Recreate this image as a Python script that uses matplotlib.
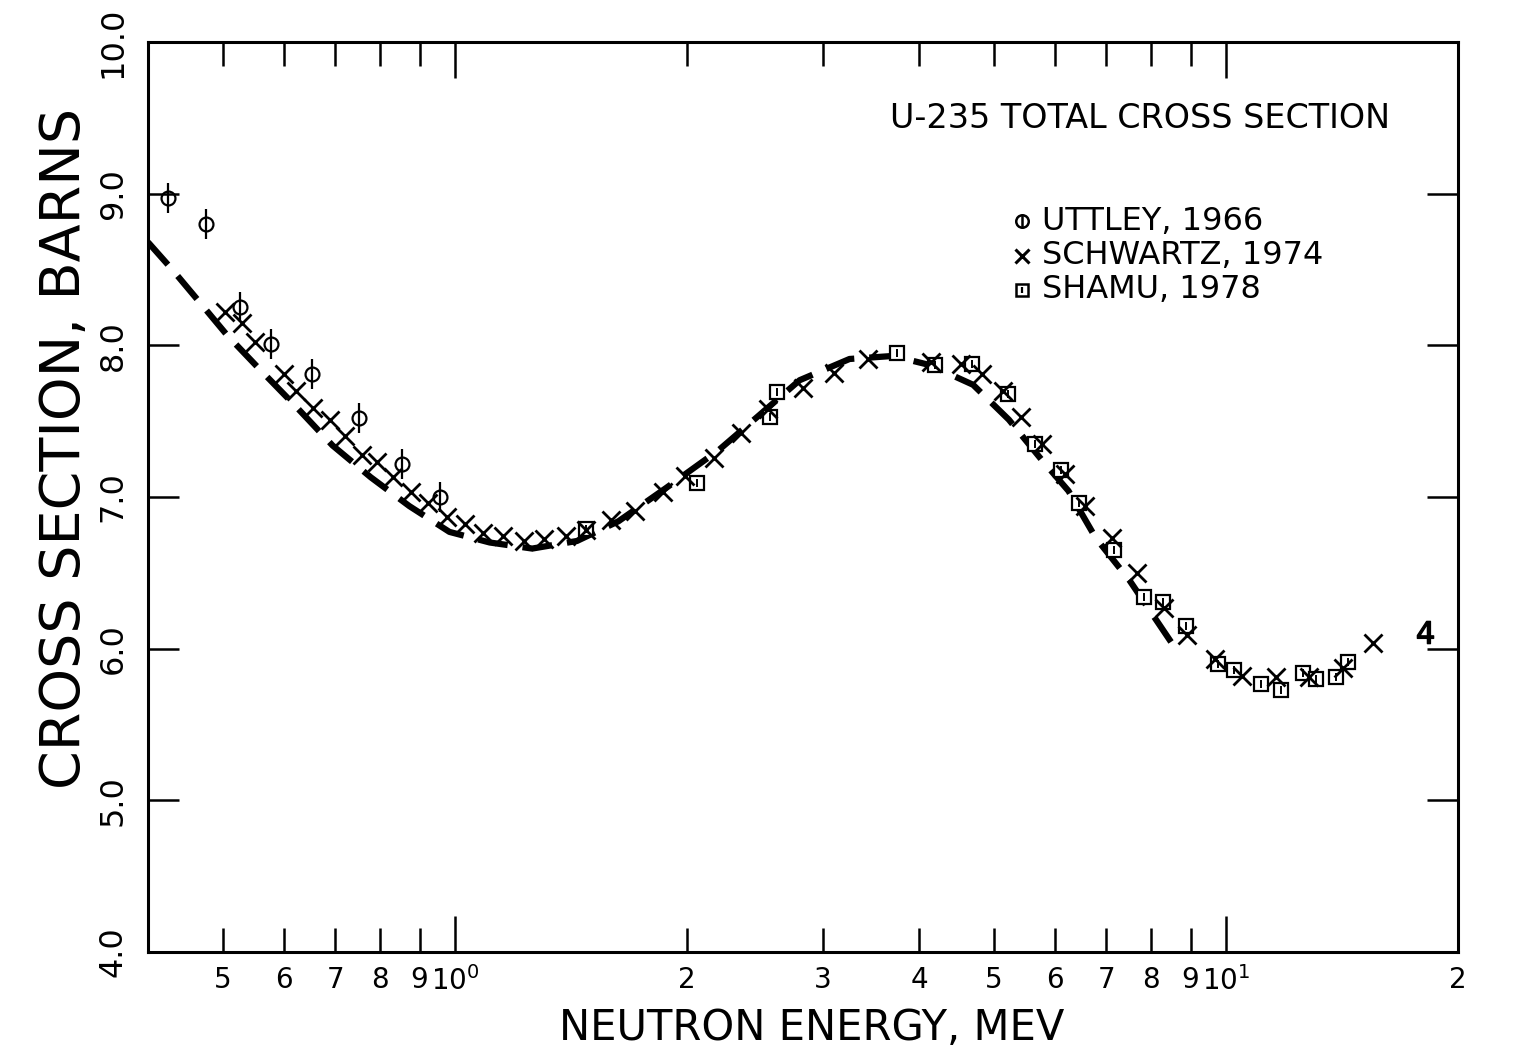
import matplotlib
matplotlib.use('Agg')
import matplotlib.pyplot as plt
from matplotlib.ticker import FixedLocator, FixedFormatter, NullFormatter

# Datos (energia en MeV, seccion eficaz en barns)
uttley_e = [0.425, 0.476, 0.527, 0.578, 0.652, 0.751, 0.853, 0.957]
uttley_s = [8.97, 8.80, 8.25, 8.01, 7.81, 7.52, 7.22, 7.00]

schwartz_e = [0.503, 0.530, 0.551, 0.600, 0.622, 0.655, 0.688, 0.721, 0.759, 0.792,
              0.832, 0.876, 0.922, 0.976, 1.031, 1.087, 1.153, 1.231, 1.307, 1.393,
              1.480, 1.594, 1.711, 1.863, 1.986, 2.17, 2.35, 2.55, 2.83, 3.10,
              3.43, 4.14, 4.53, 4.83, 5.14, 5.42, 5.77, 6.18, 6.57, 7.11,
              7.67, 8.32, 8.91, 9.69, 10.5, 11.6, 12.8, 14.2, 15.5]
schwartz_s = [8.22, 8.15, 8.02, 7.81, 7.70, 7.59, 7.51, 7.40, 7.28, 7.23,
              7.13, 7.03, 6.96, 6.87, 6.82, 6.76, 6.74, 6.71, 6.72, 6.74,
              6.78, 6.85, 6.91, 7.03, 7.14, 7.26, 7.42, 7.58, 7.72, 7.82,
              7.91, 7.89, 7.88, 7.81, 7.70, 7.53, 7.35, 7.15, 6.94, 6.73,
              6.50, 6.27, 6.09, 5.93, 5.82, 5.81, 5.81, 5.87, 6.04]

shamu_e = [1.48, 2.06, 2.56, 2.62, 3.75, 4.20, 4.69, 5.21, 5.65, 6.12, 6.45, 7.16,
           7.82, 8.28, 8.87, 9.76, 10.25, 11.1, 11.8, 12.6, 13.1, 13.9, 14.4]
shamu_s = [6.79, 7.09, 7.53, 7.69, 7.95, 7.87, 7.88, 7.68, 7.35, 7.18, 6.96, 6.65,
           6.34, 6.31, 6.15, 5.90, 5.86, 5.77, 5.73, 5.84, 5.80, 5.81, 5.91]

otro_e = [18.1]
otro_s = [6.11]

# Curva evaluada (linea discontinua)
curva_e = [0.40, 0.43, 0.471, 0.506, 0.554, 0.624, 0.694, 0.778, 0.873, 0.984,
           1.11, 1.26, 1.44, 1.63, 1.88, 2.20, 2.47, 2.80, 3.25, 3.70,
           4.13, 4.70, 5.23, 5.78, 6.25, 6.78, 7.50, 8.50]
curva_s = [8.68, 8.50, 8.26, 8.07, 7.86, 7.59, 7.34, 7.13, 6.94, 6.77,
           6.70, 6.66, 6.71, 6.84, 7.06, 7.31, 7.53, 7.77, 7.91, 7.93,
           7.87, 7.74, 7.51, 7.24, 7.04, 6.73, 6.45, 6.04]

x_major = [1, 10]
x_major_lab = ['10$^0$', '10$^1$']
x_minor = [0.5, 0.6, 0.7, 0.8, 0.9, 2, 3, 4, 5, 6, 7, 8, 9, 20]
x_minor_lab = ['5', '6', '7', '8', '9', '2', '3', '4', '5', '6', '7', '8', '9', '2']
y_ticks = [4, 5, 6, 7, 8, 9, 10]
y_tick_lab = ['4.0', '5.0', '6.0', '7.0', '8.0', '9.0', '10.0']

plt.rcParams['font.family'] = ['DejaVu Sans']

fig = plt.figure(figsize=(15.13, 10.53), dpi=100)
ax = fig.add_axes([148 / 1513, 101 / 1053, 1310 / 1513, 910 / 1053])

# Curva discontinua gruesa
ax.plot(curva_e, curva_s, color='black', lw=4.5, linestyle=(0, (4.8, 2.4)),
        dash_capstyle='butt', zorder=2)

# Uttley: circulo con barra vertical
ax.plot(uttley_e, uttley_s, linestyle='none', marker='o', ms=10, mfc='none',
        mec='black', mew=1.6, zorder=3)
ax.plot(uttley_e, uttley_s, linestyle='none', marker='|', ms=21, mec='black',
        mew=1.6, zorder=3)

# Schwartz: cruces
ax.plot(schwartz_e, schwartz_s, linestyle='none', marker='x', ms=13, mec='black',
        mew=2.0, zorder=4)

# Shamu: cuadrados
ax.plot(shamu_e, shamu_s, linestyle='none', marker='s', ms=10, mfc='white',
        mec='black', mew=1.6, zorder=3)
ax.plot(shamu_e, shamu_s, linestyle='none', marker='|', ms=6, mec='black',
        mew=1.4, zorder=3)

ax.plot(otro_e, otro_s, linestyle='none', marker='$4$', ms=16, color='black', zorder=3)

ax.set_xscale('log')
ax.set_xlim(0.4, 20)
ax.set_ylim(4.0, 10.0)

ax.xaxis.set_major_locator(FixedLocator(x_major))
ax.xaxis.set_major_formatter(FixedFormatter(x_major_lab))
ax.xaxis.set_minor_locator(FixedLocator(x_minor))
ax.xaxis.set_minor_formatter(FixedFormatter(x_minor_lab))
ax.set_yticks(y_ticks)
ax.set_yticklabels(y_tick_lab, rotation=90, va='center')

ax.tick_params(axis='x', which='major', direction='in', length=26, width=1.8,
               top=True, labelsize=20, pad=10)
ax.tick_params(axis='x', which='minor', direction='in', length=17, width=1.8,
               top=True, labelsize=20, pad=10)
ax.tick_params(axis='y', which='major', direction='in', length=22, width=1.8,
               right=True, labelsize=23, pad=14)
for s in ax.spines.values():
    s.set_linewidth(2.2)

# Textos
fig.text(1140 / 1513, 1 - 118 / 1053, 'U-235 TOTAL CROSS SECTION', fontsize=24,
         ha='center', va='center')
fig.text(812 / 1513, 1 - 1028 / 1053, 'NEUTRON ENERGY, MEV', fontsize=30,
         ha='center', va='center')
fig.text(65 / 1513, 1 - 448 / 1053, 'CROSS SECTION, BARNS', fontsize=40,
         rotation=90, ha='center', va='center')

# Leyenda manual
ley_y = [1 - 221 / 1053, 1 - 256 / 1053, 1 - 290 / 1053]
ley_txt = ['UTTLEY, 1966', 'SCHWARTZ, 1974', 'SHAMU, 1978']
for yy, tt in zip(ley_y, ley_txt):
    fig.text(1042 / 1513, yy, tt, fontsize=23, ha='left', va='center')
mx = 1022 / 1513
fig.add_artist(plt.Line2D([mx], [ley_y[0]], marker='o', ms=9, mfc='none', mec='black',
                          mew=1.8, linestyle='none', transform=fig.transFigure))
fig.add_artist(plt.Line2D([mx], [ley_y[0]], marker='|', ms=9, mec='black',
                          mew=1.8, linestyle='none', transform=fig.transFigure))
fig.add_artist(plt.Line2D([mx], [ley_y[1]], marker='x', ms=10, mec='black',
                          mew=2.2, linestyle='none', transform=fig.transFigure))
fig.add_artist(plt.Line2D([mx], [ley_y[2]], marker='s', ms=9, mfc='none', mec='black',
                          mew=1.8, linestyle='none', transform=fig.transFigure))
fig.add_artist(plt.Line2D([mx], [ley_y[2]], marker='|', ms=5, mec='black',
                          mew=1.6, linestyle='none', transform=fig.transFigure))

fig.savefig('out.png', dpi=100)
